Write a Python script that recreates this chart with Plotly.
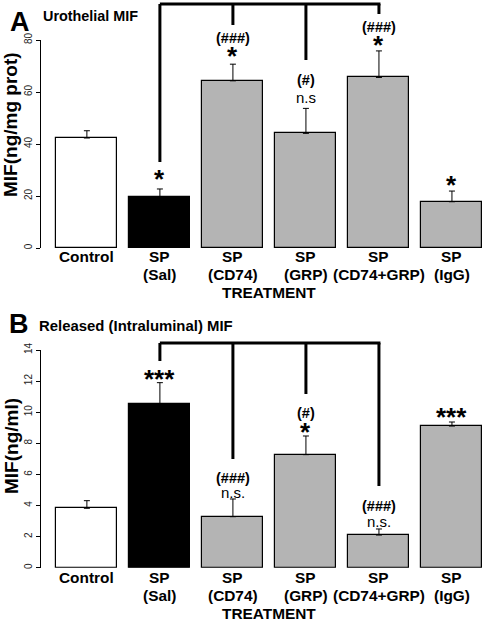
import plotly.graph_objects as go

W, H = 487, 623

categories = ["Control", "SP (Sal)", "SP (CD74)", "SP (GRP)", "SP (CD74+GRP)", "SP (IgG)"]
line1 = ["Control", "SP", "SP", "SP", "SP", "SP"]
line2 = ["", "(Sal)", "(CD74)", "(GRP)", "(CD74+GRP)", "(IgG)"]

# Panel A: Urothelial MIF (ng/mg prot)
a_mean = [42.3, 19.7, 64.3, 44.1, 65.6, 17.8]
a_sem = [2.8, 3.0, 6.4, 9.6, 10.2, 4.1]
a_sig = ["", "*", "*", "n.s", "*", "*"]
a_hash = ["", "", "(###)", "(#)", "(###)", ""]
a_ticks = [0, 20, 40, 60, 80]

# Panel B: Released (intraluminal) MIF (ng/ml)
b_mean = [3.82, 10.5, 3.28, 7.27, 2.1, 9.11]
b_sem = [0.49, 1.4, 1.14, 1.2, 0.39, 0.26]
b_sig = ["", "***", "n.s.", "*", "n.s.", "***"]
b_hash = ["", "", "(###)", "(#)", "(###)", ""]
b_ticks = [0, 2, 4, 6, 8, 10, 12, 14]

colors = ["white", "black", "#b4b4b4", "#b4b4b4", "#b4b4b4", "#b4b4b4"]

XR = [-1.19, 5.48]
FONT = "Liberation Sans, Arial, sans-serif"


def py(p):
    return 1 - p / H


def cx(i):
    return (i - XR[0]) / (XR[1] - XR[0])


fig = go.Figure()
idx = list(range(len(categories)))
for mean, sem, xa, ya in [(a_mean, a_sem, "x", "y"), (b_mean, b_sem, "x2", "y2")]:
    fig.add_trace(go.Bar(
        x=idx, y=mean, width=0.835, xaxis=xa, yaxis=ya,
        marker=dict(color=colors, line=dict(color="black", width=1.2)),
        error_y=dict(type="data", array=sem, arrayminus=[0] * len(sem), symmetric=False,
                     color="black", thickness=1, width=3),
        showlegend=False, hoverinfo="skip",
    ))

yax = dict(anchor="free", position=40 / W, showline=True, linecolor="black", linewidth=1,
           ticks="outside", ticklen=4, tickcolor="black", tickangle=-90,
           tickfont=dict(family=FONT, size=10, color="#222"), showgrid=False, zeroline=False,
           automargin=False)
xax = dict(range=XR, domain=[0, 1], showline=False, showticklabels=False, ticks="",
           showgrid=False, zeroline=False, automargin=False)

fig.update_layout(
    width=W, height=H, margin=dict(l=0, r=0, t=0, b=0, pad=0, autoexpand=False),
    plot_bgcolor="white", paper_bgcolor="white",
    xaxis=dict(xax, anchor="y"),
    xaxis2=dict(xax, anchor="y2"),
    yaxis=dict(yax, domain=[py(248), py(40)], range=[0, 80], tickvals=a_ticks),
    yaxis2=dict(yax, domain=[py(567.7), py(350)], range=[0, 14], tickvals=b_ticks),
    bargap=0,
)

ann = []
shapes = []


def text(x, y, t, size, bold=False, xref="paper", xanchor="center", angle=0):
    ann.append(dict(x=x, y=py(y), xref=xref, yref="paper", text=("<b>%s</b>" % t) if bold else t,
                    showarrow=False, xanchor=xanchor, yanchor="middle", textangle=angle,
                    font=dict(family=FONT, size=size, color="black")))


def seg(x0, y0, x1, y1):
    shapes.append(dict(type="line", xref="paper", yref="paper", x0=x0, y0=py(y0), x1=x1, y1=py(y1),
                       line=dict(color="black", width=3)))


# Titles
text(8 / W, 22, "A", 27, True, xanchor="left")
text(41 / W, 16, "Urothelial MIF", 14.4, True, xanchor="left")
text(7 / W, 324, "B", 27, True, xanchor="left")
text(37 / W, 326, "Released (Intraluminal) MIF", 14.9, True, xanchor="left")

# Y titles
text(11 / W, 125, "MIF(ng/mg prot)", 19, True, angle=-90)
text(11 / W, 446, "MIF(ng/ml)", 19, True, angle=-90)

# Category labels
for base, xref in [(0, "x"), (320, "x2")]:
    for i in idx:
        text(i, 257 + base, line1[i], 15.4, True, xref=xref)
        if line2[i]:
            text(i, 275 + base, line2[i], 15.4, True, xref=xref)
    text(269 / W, 293 + base, "TREATMENT", 15.4, True)

# Panel A significance marks
a_star_y = {1: 179, 2: 56, 4: 45, 5: 185}
a_ns_y = {3: 97}
a_hash_y = {2: 38, 3: 80, 4: 27}
for i, y in a_star_y.items():
    text(i, y, a_sig[i], 26, True, xref="x")
for i, y in a_ns_y.items():
    text(i, y, a_sig[i], 15, False, xref="x")
for i, y in a_hash_y.items():
    text(i, y, a_hash[i], 14.5, True, xref="x")

# Panel B significance marks
b_star_y = {1: 379, 3: 432, 5: 417}
b_ns_y = {2: 492, 4: 521}
b_hash_y = {2: 478, 3: 413, 4: 506}
for i, y in b_star_y.items():
    text(i, y, b_sig[i], 26, True, xref="x2")
for i, y in b_ns_y.items():
    text(i, y, b_sig[i], 15, False, xref="x2")
for i, y in b_hash_y.items():
    text(i, y, b_hash[i], 14.5, True, xref="x2")

# Brackets A
topA = 4
seg(cx(1), topA, cx(4) + 1.5 / W, topA)
for i, yend in [(1, 162), (2, 25), (3, 60), (4, 14)]:
    seg(cx(i), topA, cx(i), yend)

# Brackets B
topB = 343
seg(cx(1), topB, cx(4) + 1.5 / W, topB)
for i, yend in [(1, 361), (2, 459), (3, 394), (4, 486)]:
    seg(cx(i), topB, cx(i), yend)

fig.update_layout(annotations=ann, shapes=shapes)
fig.write_html("out.html", config={"displayModeBar": False},
               post_script="document.body.style.margin='0';document.body.style.overflow='hidden';")
